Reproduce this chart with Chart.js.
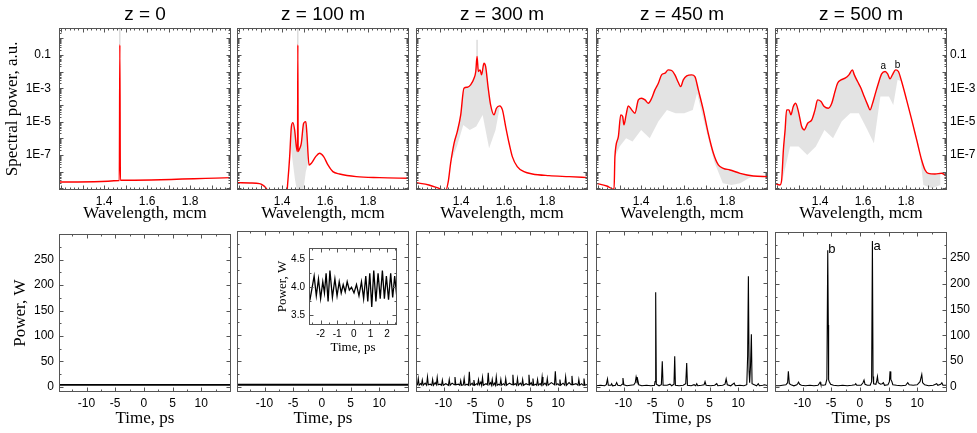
<!doctype html>
<html>
<head>
<meta charset="utf-8" />
<title>Spectrum and pulse evolution</title>
<script src="https://cdn.jsdelivr.net/npm/chart.js@4.4.1/dist/chart.umd.min.js"></script>
<style>
  body { margin: 0; background: #fff; }
  #wrap { position: relative; width: 977px; height: 433px; overflow: hidden; background: #fff; }
  #wrap canvas { position: absolute; }
</style>
</head>
<body>
<div id="wrap"></div>
<script>
// ---------- data ----------
var titles = ['z = 0', 'z = 100 m', 'z = 300 m', 'z = 450 m', 'z = 500 m'];

var specTicks = [0.1, 1e-3, 1e-5, 1e-7];
var specTickLabels = ['0.1', '1E-3', '1E-5', '1E-7'];
var wlTicks = [1.4, 1.6, 1.8];
var timeTicks = [-10, -5, 0, 5, 10];
var powerTicks = [0, 50, 100, 150, 200, 250];
var insetTimeTicks = [-2, -1, 0, 1, 2];
var insetPowerTicks = [3.5, 4.0, 4.5];

// spectra: [wavelength (mcm), log10 of spectral power]
var spec0 = [[1.19, -8.62], [1.4705, -8.53], [1.473, -0.4], [1.4755, -8.52], [1.99, -8.36]];
var spec100 = [[1.19, -8.66], [1.25, -8.68], [1.295, -8.72], [1.315, -8.85], [1.326, -9.0], [1.345, -9.4],
  [1.42, -9.4], [1.427, -8.5], [1.435, -7.1], [1.443, -5.3], [1.45, -5.06], [1.458, -5.5], [1.466, -6.5],
  [1.4715, -6.8], [1.473, -0.4], [1.4745, -6.8], [1.482, -6.6], [1.489, -6.3], [1.5, -5.1], [1.51, -5.0],
  [1.515, -5.7], [1.525, -7.6], [1.536, -7.5], [1.556, -7.1], [1.574, -6.9], [1.593, -7.1], [1.613, -7.6],
  [1.636, -8.0], [1.667, -8.14], [1.745, -8.3], [1.853, -8.36], [1.99, -8.4]];
var spec300 = [[1.19, -8.66], [1.25, -8.8], [1.297, -9.0], [1.328, -9.14], [1.34, -8.6], [1.351, -7.5],
  [1.367, -6.3], [1.382, -5.6], [1.398, -4.6], [1.413, -3.0], [1.429, -2.94], [1.444, -2.8], [1.46, -2.4],
  [1.468, -2.0], [1.474, -1.1], [1.48, -2.0], [1.488, -1.9], [1.495, -2.2], [1.506, -1.5], [1.514, -1.7],
  [1.525, -2.9], [1.537, -4.0], [1.553, -4.6], [1.564, -4.2], [1.579, -4.06], [1.592, -4.3], [1.607, -5.3],
  [1.623, -6.3], [1.638, -7.1], [1.661, -7.7], [1.692, -8.0], [1.731, -8.14], [1.809, -8.24], [1.902, -8.3],
  [1.99, -8.36]];
var spec450 = [[1.19, -8.7], [1.24, -8.86], [1.274, -9.06], [1.278, -7.1], [1.294, -5.9], [1.305, -4.6],
  [1.314, -4.7], [1.32, -5.2], [1.33, -4.6], [1.34, -4.06], [1.356, -4.3], [1.371, -4.5], [1.387, -3.7],
  [1.402, -3.6], [1.418, -3.7], [1.433, -3.9], [1.449, -3.6], [1.464, -3.1], [1.48, -2.7], [1.495, -2.2],
  [1.511, -2.1], [1.526, -1.9], [1.542, -1.94], [1.557, -2.2], [1.573, -2.66], [1.584, -2.9], [1.596, -2.5],
  [1.612, -2.26], [1.635, -2.2], [1.65, -2.3], [1.666, -3.1], [1.689, -4.3], [1.712, -5.7], [1.736, -6.9],
  [1.759, -7.6], [1.782, -7.8], [1.813, -7.9], [1.86, -8.1], [1.922, -8.26], [1.99, -8.3]];
var spec500 = [[1.19, -8.7], [1.213, -8.8], [1.221, -8.5], [1.229, -6.7], [1.237, -5.5], [1.244, -4.3],
  [1.255, -4.3], [1.264, -4.6], [1.275, -4.1], [1.286, -3.9], [1.299, -4.4], [1.314, -5.3], [1.326, -5.5],
  [1.342, -5.1], [1.361, -4.9], [1.376, -4.3], [1.388, -3.7], [1.404, -3.8], [1.419, -4.1], [1.438, -4.2],
  [1.454, -3.9], [1.469, -3.2], [1.481, -2.7], [1.497, -2.5], [1.516, -2.4], [1.534, -2.2], [1.55, -1.9],
  [1.559, -2.2], [1.574, -2.6], [1.59, -3.0], [1.605, -3.5], [1.621, -4.0], [1.632, -4.3], [1.643, -3.94],
  [1.655, -3.4], [1.671, -2.7], [1.686, -2.14], [1.702, -2.0], [1.714, -2.14], [1.725, -2.44], [1.736, -2.2],
  [1.751, -1.9], [1.764, -2.0], [1.779, -2.6], [1.802, -3.7], [1.826, -4.9], [1.849, -6.1], [1.872, -7.3],
  [1.888, -7.9], [1.903, -8.1], [1.934, -8.14], [1.965, -8.1], [1.99, -8.3]];

// lower edge of the grey (single-shot) spectra
var gray100 = [[1.44, -6.5], [1.45, -7.5], [1.46, -8.5], [1.47, -9.2], [1.48, -9.2], [1.49, -9.2], [1.5, -9.0],
  [1.51, -8.0], [1.52, -7.5], [1.53, -7.6]];
var gray300 = [[1.35, -7.5], [1.38, -6.5], [1.41, -5.2], [1.44, -5.5], [1.47, -5.3], [1.5, -4.6], [1.53, -6.6],
  [1.56, -5.5], [1.58, -4.1]];
var gray450 = [[1.278, -7.1], [1.3, -6.5], [1.33, -6.0], [1.36, -6.2], [1.4, -5.5], [1.44, -6.0], [1.48, -5.0],
  [1.52, -4.3], [1.56, -4.5], [1.6, -4.5], [1.64, -4.3], [1.66, -3.3], [1.7, -5.4], [1.74, -7.4], [1.78, -8.7],
  [1.82, -8.8], [1.86, -8.7], [1.9, -8.4], [1.93, -8.26]];
var gray500 = [[1.225, -8.5], [1.26, -6.5], [1.3, -6.5], [1.34, -7.0], [1.38, -6.5], [1.42, -5.5], [1.46, -6.0],
  [1.5, -5.0], [1.54, -4.5], [1.58, -4.5], [1.62, -5.5], [1.65, -6.3], [1.68, -3.5], [1.72, -3.5], [1.74, -4.0],
  [1.76, -2.5], [1.78, -2.6], [1.86, -6.5], [1.88, -8.8], [1.92, -9.0], [1.96, -8.8]];
var pump0 = [[1.473, -0.4], [1.473, 0.7]];
var pump100 = [[1.473, -0.4], [1.473, 0.7]];
var pump300 = [[1.474, -1.1], [1.474, -0.1]];

// pulses: [time (ps), power (W)]
var pulse0 = [[-14.8, 4], [15.2, 4]];
var pulse100 = [[-14.8, 4], [15.2, 4]];
var pulse300 = [[-14.8, 3], [-14.55, 4], [-14.4, 16], [-14.25, 3], [-14.0, 6], [-13.85, 4], [-13.7, 13], [-13.55, 3],
  [-13.2, 7], [-12.95, 3], [-12.8, 19], [-12.65, 4], [-12.3, 5], [-12.05, 3], [-11.9, 14], [-11.75, 3],
  [-11.45, 8], [-11.25, 4], [-11.1, 18], [-10.95, 4], [-10.6, 5], [-10.35, 3], [-10.2, 13], [-10.05, 3],
  [-9.6, 6], [-9.15, 3], [-9.0, 14], [-8.85, 3], [-8.5, 7], [-8.15, 4], [-8.0, 19], [-7.85, 4], [-7.4, 5],
  [-7.15, 3], [-7.0, 12], [-6.85, 3], [-6.55, 4], [-6.4, 16], [-6.25, 3], [-5.9, 5], [-5.65, 3], [-5.5, 29],
  [-5.35, 3], [-5.0, 7], [-4.85, 3], [-4.7, 13], [-4.55, 3], [-4.2, 6], [-4.05, 4], [-3.9, 14], [-3.75, 4],
  [-3.5, 9], [-3.35, 3], [-3.2, 18], [-3.05, 3], [-2.6, 6], [-2.35, 4], [-2.2, 27], [-2.05, 4], [-1.8, 8],
  [-1.65, 3], [-1.5, 14], [-1.35, 3], [-1.1, 7], [-0.95, 3], [-0.8, 19], [-0.65, 3], [-0.35, 5], [-0.15, 3],
  [0.0, 14], [0.15, 3], [0.45, 6], [0.7, 3], [0.85, 16], [1.0, 3], [1.5, 7], [1.95, 4], [2.1, 23], [2.25, 4],
  [2.55, 6], [2.75, 3], [2.9, 16], [3.05, 3], [3.4, 7], [3.65, 3], [3.8, 14], [3.95, 3], [4.4, 6], [4.75, 4],
  [4.9, 23], [5.05, 4], [5.3, 8], [5.45, 3], [5.6, 16], [5.75, 3], [6.1, 5], [6.25, 3], [6.4, 14], [6.55, 3],
  [6.85, 6], [7.05, 3], [7.2, 19], [7.35, 3], [7.7, 7], [7.95, 3], [8.1, 16], [8.25, 3], [8.8, 8], [9.35, 4],
  [9.5, 30], [9.65, 4], [9.95, 6], [10.15, 3], [10.3, 14], [10.45, 3], [10.85, 7], [11.15, 3], [11.3, 19],
  [11.45, 3], [11.9, 8], [12.25, 4], [12.4, 21], [12.55, 4], [13.1, 6], [13.45, 3], [13.6, 14], [13.75, 3],
  [14.1, 6], [14.35, 3], [14.5, 16], [14.65, 3], [15.2, 5]];
var pulse450 = [[-14.8, 2], [-14.0, 3], [-13.3, 2], [-13.0, 4], [-12.8, 15], [-12.65, 3], [-12.2, 3], [-12.07, 6],
  [-11.9, 2], [-11.4, 3], [-11.2, 8], [-11.0, 3], [-10.5, 2], [-10.25, 5], [-10.1, 17], [-9.95, 4], [-9.4, 2],
  [-8.8, 3], [-8.2, 4], [-7.95, 8], [-7.8, 19], [-7.65, 12], [-7.55, 15], [-7.35, 4], [-6.8, 2], [-6.0, 3],
  [-5.2, 2], [-4.6, 3], [-4.5, 10], [-4.39, 182], [-4.28, 5], [-3.8, 2], [-3.4, 4], [-3.24, 49], [-3.1, 3],
  [-2.4, 3], [-1.9, 5], [-1.6, 2], [-1.2, 5], [-1.07, 59], [-0.95, 3], [-0.3, 2], [0.4, 3], [0.85, 6], [1.02, 46],
  [1.15, 3], [1.8, 2], [2.3, 4], [2.6, 2], [2.77, 6], [2.95, 2], [3.6, 3], [4.05, 4], [4.22, 10], [4.4, 3],
  [5.2, 2], [5.9, 3], [6.26, 6], [6.45, 2], [7.3, 3], [7.7, 5], [7.9, 15], [8.1, 4], [8.7, 2], [9.3, 7], [9.5, 2],
  [10.3, 3], [11.0, 2], [11.5, 4], [11.65, 60], [11.78, 213], [11.9, 30], [12.0, 8], [12.15, 40], [12.3, 101],
  [12.42, 6], [12.8, 4], [13.2, 2], [13.5, 6], [13.7, 2], [14.3, 3], [14.6, 4], [15.2, 2]];
var pulse500 = [[-14.8, 2], [-14.0, 2], [-13.5, 3], [-12.9, 4], [-12.6, 8], [-12.47, 30], [-12.3, 6], [-12.0, 4],
  [-11.5, 2], [-11.0, 4], [-10.8, 7], [-10.7, 9], [-10.5, 5], [-10.2, 3], [-9.5, 2], [-8.7, 3], [-8.0, 2],
  [-7.3, 3], [-7.05, 7], [-6.94, 9], [-6.8, 4], [-6.4, 3], [-6.0, 4], [-5.75, 15], [-5.6, 265], [-5.5, 120],
  [-5.45, 14], [-5.37, 11], [-5.1, 5], [-4.6, 3], [-3.8, 2], [-3.0, 3], [-2.2, 2], [-1.4, 3], [-0.85, 4],
  [-0.72, 6], [-0.55, 3], [0.2, 3], [0.55, 8], [0.73, 13], [0.9, 5], [1.3, 3], [1.8, 3], [2.05, 10], [2.19, 283],
  [2.3, 20], [2.4, 6], [2.8, 5], [2.95, 12], [3.07, 20], [3.2, 8], [3.6, 5], [3.9, 6], [4.1, 8], [4.3, 3],
  [4.9, 4], [5.15, 10], [5.27, 30], [5.4, 14], [5.56, 11], [5.75, 4], [6.4, 3], [7.2, 2], [8.0, 3], [8.2, 6],
  [8.35, 8], [8.6, 4], [9.3, 3], [10.0, 4], [10.5, 10], [10.8, 24], [10.95, 8], [11.3, 4], [12.0, 2], [12.8, 3],
  [13.2, 5], [13.4, 6], [13.6, 3], [14.1, 5], [14.3, 8], [14.5, 3], [15.2, 3]];
var inset100 = [[-2.7, 3.85], [-2.63, 3.8], [-2.51, 4.0], [-2.39, 4.2], [-2.26, 3.85], [-2.13, 4.15], [-2.0, 3.8],
  [-1.87, 4.1], [-1.77, 3.9], [-1.67, 4.25], [-1.55, 3.75], [-1.44, 4.3], [-1.29, 3.82], [-1.14, 4.15],
  [-1.01, 3.85], [-0.88, 4.1], [-0.76, 3.9], [-0.64, 4.05], [-0.52, 3.92], [-0.4, 4.1], [-0.27, 3.95],
  [-0.14, 4.0], [0.01, 3.9], [0.16, 4.05], [0.31, 3.85], [0.46, 4.1], [0.59, 3.8], [0.72, 4.2], [0.84, 3.75],
  [0.96, 4.25], [1.08, 3.65], [1.2, 4.3], [1.33, 3.75], [1.46, 4.25], [1.59, 3.8], [1.72, 4.3], [1.84, 3.8],
  [1.96, 4.2], [2.09, 3.78], [2.22, 4.25], [2.34, 3.82], [2.46, 4.2], [2.6, 3.8]];

// ---------- layout ----------
var specData = [spec0, spec100, spec300, spec450, spec500];
var specGray = [null, gray100, gray300, gray450, gray500];
var specPump = [pump0, pump100, pump300, null, null];
var pulseData = [pulse0, pulse100, pulse300, pulse450, pulse500];
var boxLeft = [59, 237, 416, 596, 775];
var BOX_W = 172;
var WL_MIN = 1.19, WL_MAX = 1.99, LOG_MIN = -9.1, LOG_MAX = 0.62;
var T_MIN = -14.8, T_MAX = 15.2, P_MIN = -10, P_MAX = 300;
var RED = 'rgb(255,0,0)';

Chart.defaults.font.family = 'Liberation Sans';
Chart.defaults.color = '#000';

var wrap = document.getElementById('wrap');
function addCanvas(left, top, w, h) {
  var c = document.createElement('canvas');
  c.width = w; c.height = h;
  c.style.left = left + 'px'; c.style.top = top + 'px';
  c.style.width = w + 'px'; c.style.height = h + 'px';
  wrap.appendChild(c);
  return c;
}
function toPts(pairs, logY) {
  return pairs.map(function (p) { return { x: p[0], y: logY ? Math.pow(10, p[1]) : p[1] }; });
}
function steps(a, b, s) {
  var out = [];
  for (var k = 0; a + k * s <= b + 1e-9; k++) out.push(+(a + k * s).toFixed(4));
  return out;
}
function logMinor() {
  var out = [];
  for (var e = -10; e <= 0; e++) for (var m = 2; m <= 9; m++) out.push(m * Math.pow(10, e));
  return out;
}
function logMajor() {
  var out = [];
  for (var e = -10; e <= 0; e++) out.push(Math.pow(10, e));
  return out;
}
function serif(size) { return { family: 'Liberation Serif', size: size }; }
function sans(size) { return { family: 'Liberation Sans', size: size }; }
function fixedTicks(list) { return function (s) { s.ticks = list.map(function (v) { return { value: v }; }); }; }
function fixedWidth(w) { return function (s) { if (s.options.display) s.width = w; }; }

// box with inward ticks on all four sides, plus small text notes
var frame = {
  id: 'frame',
  afterDatasetsDraw: function (chart, args, o) {
    var ctx = chart.ctx, a = chart.chartArea, xs = chart.scales.x, ys = chart.scales.y;
    var L = Math.round(a.left) + 0.5, R = Math.round(a.right) - 0.5;
    var T = Math.round(a.top) + 0.5, B = Math.round(a.bottom) - 0.5;
    ctx.save();
    ctx.strokeStyle = '#555';
    ctx.lineWidth = 1;
    ctx.beginPath();
    function xt(list, len) {
      list.forEach(function (v) {
        var p = Math.round(xs.getPixelForValue(v)) + 0.5;
        if (p <= L || p >= R) return;
        ctx.moveTo(p, B); ctx.lineTo(p, B - len);
        ctx.moveTo(p, T); ctx.lineTo(p, T + len);
      });
    }
    function yt(list, len) {
      list.forEach(function (v) {
        var p = Math.round(ys.getPixelForValue(v)) + 0.5;
        if (p <= T || p >= B) return;
        ctx.moveTo(L, p); ctx.lineTo(L + len, p);
        ctx.moveTo(R, p); ctx.lineTo(R - len, p);
      });
    }
    xt(o.xMinor || [], 2); xt(o.xMajor || [], 4);
    yt(o.yMinor || [], 2); yt(o.yMajor || [], 4);
    ctx.stroke();
    ctx.strokeRect(L, T, R - L, B - T);
    (o.notes || []).forEach(function (n) {
      ctx.fillStyle = '#000';
      ctx.font = n.size + 'px "Liberation Sans"';
      ctx.textAlign = 'center';
      ctx.textBaseline = 'middle';
      ctx.fillText(n.text, xs.getPixelForValue(n.x), ys.getPixelForValue(n.y));
    });
    ctx.restore();
  }
};

function baseOptions() {
  return {
    responsive: false, animation: false, events: [],
    plugins: { legend: { display: false }, tooltip: { enabled: false } },
    elements: { point: { radius: 0 } }
  };
}

// ---------- top row: spectra ----------
specData.forEach(function (red, i) {
  var padL = i === 0 ? 59 : 2, padR = i === 4 ? 30 : 2;
  var cv = addCanvas(boxLeft[i] - padL, 0, padL + BOX_W + padR, 225);
  var ds = [{ data: toPts(red, true), borderColor: RED, borderWidth: 1.4, cubicInterpolationMode: 'monotone', fill: false, order: 0 }];
  if (specGray[i]) ds.push({ data: toPts(specGray[i], true), borderWidth: 0, borderColor: 'rgba(0,0,0,0)',
    backgroundColor: 'rgba(185,185,185,0.4)', fill: '-1', order: 1 });
  if (specPump[i]) ds.push({ data: toPts(specPump[i], true), borderColor: 'rgba(190,190,190,0.8)', borderWidth: 1, fill: false, order: 2 });
  var opt = baseOptions();
  opt.layout = { padding: { left: i === 0 ? 0 : 2, right: i === 4 ? 0 : 2 } };
  opt.plugins.title = { display: true, text: titles[i], font: { family: 'Liberation Sans', size: 19, weight: 'normal' },
    color: '#000', padding: { top: 3, bottom: 2 }, fullSize: false };
  opt.plugins.frame = { xMajor: steps(1.2, 1.9, 0.1), xMinor: steps(1.2, 1.98, 0.02), yMajor: logMajor(), yMinor: logMinor(),
    notes: i === 4 ? [{ text: 'a', x: 1.694, y: Math.pow(10, -1.66), size: 10 }, { text: 'b', x: 1.76, y: Math.pow(10, -1.6), size: 10 }] : [] };
  opt.scales = {
    x: { type: 'linear', min: WL_MIN, max: WL_MAX,
      afterFit: function (s) { s.height = 35; }, afterBuildTicks: fixedTicks(wlTicks),
      ticks: { callback: function (v) { return v.toFixed(1); }, font: sans(12), padding: 4, maxRotation: 0, autoSkip: false },
      grid: { display: false, drawTicks: false }, border: { display: false },
      title: { display: true, text: 'Wavelength, mcm', font: serif(17), padding: { top: 0, bottom: 1 } } },
    y: { type: 'logarithmic', min: Math.pow(10, LOG_MIN), max: Math.pow(10, LOG_MAX),
      display: i === 0 || i === 4, position: i === 4 ? 'right' : 'left',
      afterFit: fixedWidth(i === 0 ? 59 : 30), afterBuildTicks: fixedTicks(specTicks),
      ticks: { callback: function (v, k) { return specTickLabels[k]; }, font: sans(12), padding: i === 0 ? 8 : 3, autoSkip: false },
      grid: { display: false, drawTicks: false }, border: { display: false },
      title: { display: i === 0, text: 'Spectral power, a.u.', font: serif(17), padding: { top: 2 } } }
  };
  new Chart(cv, { type: 'line', data: { datasets: ds }, options: opt, plugins: [frame] });
});

// ---------- bottom row: pulses ----------
pulseData.forEach(function (p, i) {
  var padL = i === 0 ? 59 : 2, padR = i === 4 ? 30 : 2;
  var cv = addCanvas(boxLeft[i] - padL, 222, padL + BOX_W + padR, 211);
  var opt = baseOptions();
  opt.layout = { padding: { top: 9, left: i === 0 ? 0 : 2, right: i === 4 ? 0 : 2 } };
  opt.plugins.frame = { xMajor: steps(-15, 15, 5), xMinor: steps(-15, 15, 2.5), yMajor: steps(0, 300, 50), yMinor: steps(0, 300, 25),
    notes: i === 4 ? [{ text: 'b', x: -4.86, y: 266, size: 13 }, { text: 'a', x: 2.99, y: 272, size: 13 }] : [] };
  opt.scales = {
    x: { type: 'linear', min: T_MIN, max: T_MAX,
      afterFit: function (s) { s.height = 41; }, afterBuildTicks: fixedTicks(timeTicks),
      ticks: { callback: function (v) { return String(v); }, font: sans(12), padding: 4, maxRotation: 0, autoSkip: false },
      grid: { display: false, drawTicks: false }, border: { display: false },
      title: { display: true, text: 'Time, ps', font: serif(17), padding: { top: 0, bottom: 4 } } },
    y: { type: 'linear', min: P_MIN, max: P_MAX,
      display: i === 0 || i === 4, position: i === 4 ? 'right' : 'left',
      afterFit: fixedWidth(i === 0 ? 59 : 30), afterBuildTicks: fixedTicks(powerTicks),
      ticks: { callback: function (v) { return String(v); }, font: sans(12), padding: i === 0 ? 5 : 3, autoSkip: false },
      grid: { display: false, drawTicks: false }, border: { display: false },
      title: { display: i === 0, text: 'Power, W', font: serif(17), padding: { top: 10 } } }
  };
  new Chart(cv, { type: 'line', data: { datasets: [{ data: toPts(p, false), borderColor: '#000', borderWidth: i < 2 ? 1.8 : 1.1, fill: false }] },
    options: opt, plugins: [frame] });
});

// ---------- inset in the z = 100 m pulse panel ----------
(function () {
  var cv = addCanvas(268, 238, 132, 122);
  var opt = baseOptions();
  opt.layout = { padding: { top: 6, right: 3 } };
  opt.plugins.frame = { xMajor: steps(-2, 2, 1), xMinor: steps(-2.5, 2.5, 0.5), yMajor: steps(3.5, 4.5, 0.5), yMinor: steps(3.5, 4.75, 0.25) };
  opt.scales = {
    x: { type: 'linear', min: -2.7, max: 2.6,
      afterFit: function (s) { s.height = 35; }, afterBuildTicks: fixedTicks(insetTimeTicks),
      ticks: { callback: function (v) { return String(v); }, font: sans(10), padding: 3, maxRotation: 0, autoSkip: false },
      grid: { display: false, drawTicks: false }, border: { display: false },
      title: { display: true, text: 'Time, ps', font: serif(13), padding: { top: 0, bottom: 5 } } },
    y: { type: 'linear', min: 3.33, max: 4.7,
      afterFit: fixedWidth(41), afterBuildTicks: fixedTicks(insetPowerTicks),
      ticks: { callback: function (v) { return v.toFixed(1); }, font: sans(10), padding: 4, autoSkip: false },
      grid: { display: false, drawTicks: false }, border: { display: false },
      title: { display: true, text: 'Power, W', font: serif(13), padding: { top: 7 } } }
  };
  new Chart(cv, { type: 'line', data: { datasets: [{ data: toPts(inset100, false), borderColor: '#000', borderWidth: 1.3, fill: false }] },
    options: opt, plugins: [frame] });
})();
</script>
</body>
</html>
